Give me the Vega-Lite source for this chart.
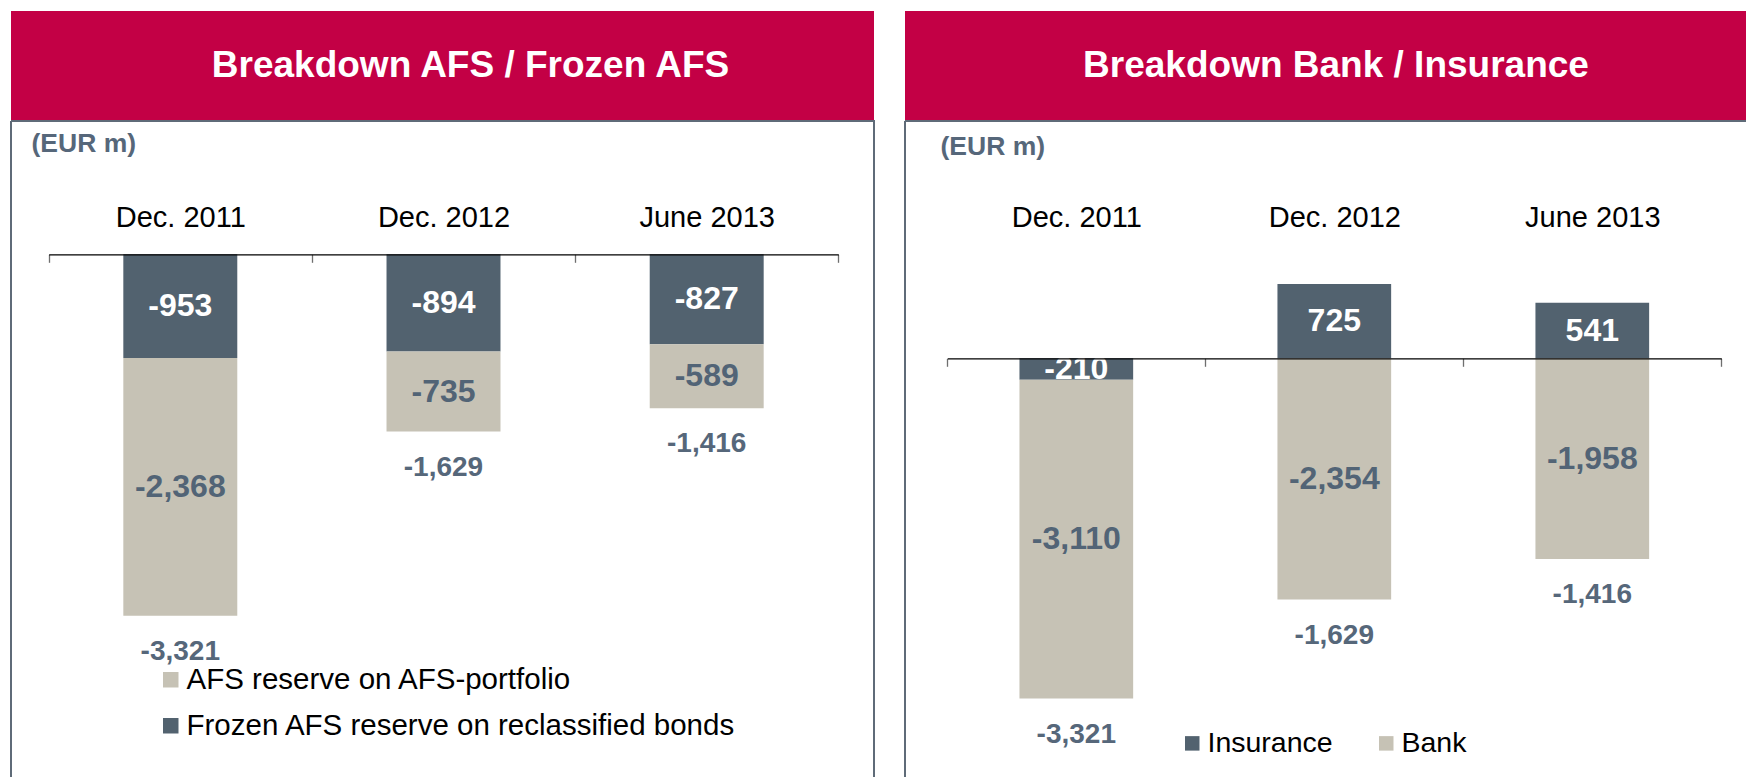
{
  "$schema": "https://vega.github.io/schema/vega-lite/v6.json",
  "padding": {"left": 10, "top": 11, "right": 0, "bottom": 0},
  "background": "white",
  "spacing": 29,
  "config": {
    "locale": {"number": {"decimal": ".", "thousands": ",", "grouping": [3], "currency": ["", ""], "minus": "-"}},
    "font": "Liberation Sans",
    "view": {"stroke": null}
  },
  "resolve": {"scale": {"color": "independent"}, "legend": {"color": "independent"}},
  "hconcat": [
    {
      "spacing": 0,
      "vconcat": [
        {
          "width": 863,
          "height": 109,
          "view": {"fill": "#c30045", "stroke": null},
          "data": {"values": [{"title": "Breakdown AFS / Frozen AFS"}]},
          "mark": {"type": "text", "font": "Liberation Sans", "fontWeight": "bold", "fontSize": 37, "color": "#ffffff", "baseline": "middle", "align": "center", "dx": 28},
          "encoding": {"text": {"field": "title", "type": "nominal"}}
        },
        {
          "width": 863,
          "height": 656,
          "view": {"stroke": "#5f6b78", "strokeWidth": 2, "strokeDash": [1519, 863, 656, 0], "fill": "#ffffff"},
          "data": {"values": [
            {"date": "Dec. 2011", "series": "Frozen AFS reserve on reclassified bonds", "value": -953, "total": -3321},
            {"date": "Dec. 2011", "series": "AFS reserve on AFS-portfolio", "value": -2368, "total": -3321},
            {"date": "Dec. 2012", "series": "Frozen AFS reserve on reclassified bonds", "value": -894, "total": -1629},
            {"date": "Dec. 2012", "series": "AFS reserve on AFS-portfolio", "value": -735, "total": -1629},
            {"date": "June 2013", "series": "Frozen AFS reserve on reclassified bonds", "value": -827, "total": -1416},
            {"date": "June 2013", "series": "AFS reserve on AFS-portfolio", "value": -589, "total": -1416}
          ]},
          "transform": [
            {"stack": "value", "groupby": ["date"], "sort": [{"field": "series", "order": "descending"}], "as": ["v0", "v1"]}
          ],
          "layer": [
            {
              "mark": {"type": "bar"},
              "encoding": {
                "x": {"field": "date", "type": "nominal", "sort": ["Dec. 2011", "Dec. 2012", "June 2013"],
                  "scale": {"range": [37.7, 827.3], "paddingInner": 0.567, "paddingOuter": 0.2835},
                  "axis": null},
                "y": {"field": "v0", "type": "quantitative", "scale": {"domain": [-4804, 1225], "nice": false, "zero": false},
                  "axis": {"orient": "left", "domain": false, "ticks": false, "labels": false, "grid": false, "minExtent": 0, "title": "(EUR m)", "titleAngle": 0, "titleAlign": "left", "titleBaseline": "alphabetic", "titleX": 20, "titleY": 30, "titleFontSize": 26.5, "titleFontWeight": "bold", "titleColor": "#56677a", "titleFont": "Liberation Sans"}},
                "y2": {"field": "v1"},
                "color": {"field": "series", "type": "nominal",
                  "scale": {"domain": ["AFS reserve on AFS-portfolio", "Frozen AFS reserve on reclassified bonds"], "range": ["#c6c2b5", "#52626f"]},
                  "legend": {"title": null, "orient": "none", "legendX": 145, "legendY": 654, "direction": "vertical", "symbolType": "square", "symbolSize": 240, "symbolStrokeWidth": 0, "labelFontSize": 29.5, "labelFont": "Liberation Sans", "labelColor": "#000000", "labelOffset": 1, "rowPadding": 15, "padding": 0, "labelLimit": 1000}}
              }
            },
            {
              "transform": [
                {"fold": ["v0", "v1"], "as": ["k", "pos"]},
                {"aggregate": [{"op": "mean", "field": "pos", "as": "mid"}], "groupby": ["date", "series", "value"]}
              ],
              "mark": {"type": "text", "fontWeight": "bold", "fontSize": 32, "baseline": "middle", "align": "center", "font": "Liberation Sans"},
              "encoding": {
                "x": {"field": "date", "type": "nominal", "sort": ["Dec. 2011", "Dec. 2012", "June 2013"],
                  "scale": {"range": [37.7, 827.3], "paddingInner": 0, "paddingOuter": 0},
                  "axis": {"orient": "top", "offset": -111, "domain": false, "ticks": false, "tickSize": 0, "labelPadding": 0, "labelFontSize": 29, "labelColor": "#000000", "labelFont": "Liberation Sans", "labelAngle": 0, "title": null, "grid": false}},
                "y": {"field": "mid", "type": "quantitative"},
                "text": {"field": "value", "type": "quantitative", "format": ",d"},
                "color": {"condition": {"test": "datum.series === 'Frozen AFS reserve on reclassified bonds'", "value": "#ffffff"}, "value": "#526476"}
              }
            },
            {
              "transform": [
                {"fold": ["v0", "v1"], "as": ["k", "pos"]},
                {"aggregate": [{"op": "min", "field": "pos", "as": "bottom"}], "groupby": ["date", "total"]}
              ],
              "mark": {"type": "text", "fontWeight": "bold", "fontSize": 28, "baseline": "middle", "align": "center", "dy": 36, "color": "#56677a", "font": "Liberation Sans"},
              "encoding": {
                "x": {"field": "date", "type": "nominal", "sort": ["Dec. 2011", "Dec. 2012", "June 2013"],
                  "scale": {"range": [37.7, 827.3], "paddingInner": 0, "paddingOuter": 0},
                  "axis": {"orient": "bottom", "offset": -522.7, "labels": false, "domain": true, "domainColor": "#000000", "domainWidth": 1.2, "ticks": true, "tickBand": "extent", "tickSize": 8, "tickColor": "#6f6f6f", "tickWidth": 1.3, "title": null, "grid": false, "zindex": 1}},
                "y": {"field": "bottom", "type": "quantitative"},
                "text": {"field": "total", "type": "quantitative", "format": ",d"}
              }
            }
          ],
          "resolve": {"scale": {"x": "independent"}, "axis": {"x": "independent"}}
        }
      ]
    },
    {
      "spacing": 0,
      "vconcat": [
        {
          "width": 842,
          "height": 109,
          "view": {"fill": "#c30045", "stroke": null},
          "data": {"values": [{"title": "Breakdown Bank / Insurance"}]},
          "mark": {"type": "text", "font": "Liberation Sans", "fontWeight": "bold", "fontSize": 37, "color": "#ffffff", "baseline": "middle", "align": "center", "dx": 10},
          "encoding": {"text": {"field": "title", "type": "nominal"}}
        },
        {
          "width": 842,
          "height": 656,
          "view": {"stroke": "#5f6b78", "strokeWidth": 2, "strokeDash": [842, 1498, 656, 0], "fill": "#ffffff"},
          "data": {"values": [
            {"date": "Dec. 2011", "series": "Insurance", "value": -210, "total": -3321},
            {"date": "Dec. 2011", "series": "Bank", "value": -3110, "total": -3321},
            {"date": "Dec. 2012", "series": "Insurance", "value": 725, "total": -1629},
            {"date": "Dec. 2012", "series": "Bank", "value": -2354, "total": -1629},
            {"date": "June 2013", "series": "Insurance", "value": 541, "total": -1416},
            {"date": "June 2013", "series": "Bank", "value": -1958, "total": -1416}
          ]},
          "transform": [
            {"stack": "value", "groupby": ["date"], "sort": [{"field": "series", "order": "descending"}], "as": ["v0", "v1"]}
          ],
          "layer": [
            {
              "mark": {"type": "bar"},
              "encoding": {
                "x": {"field": "date", "type": "nominal", "sort": ["Dec. 2011", "Dec. 2012", "June 2013"],
                  "scale": {"range": [42.3, 816.3], "paddingInner": 0.5593, "paddingOuter": 0.2797},
                  "axis": null},
                "y": {"field": "v0", "type": "quantitative", "scale": {"domain": [-4085, 2315], "nice": false, "zero": false},
                  "axis": {"orient": "left", "domain": false, "ticks": false, "labels": false, "grid": false, "minExtent": 0, "title": "(EUR m)", "titleAngle": 0, "titleAlign": "left", "titleBaseline": "alphabetic", "titleX": 35, "titleY": 33, "titleFontSize": 26.5, "titleFontWeight": "bold", "titleColor": "#56677a", "titleFont": "Liberation Sans"}},
                "y2": {"field": "v1"},
                "color": {"field": "series", "type": "nominal",
                  "scale": {"domain": ["Insurance", "Bank"], "range": ["#52626f", "#c6c2b5"]},
                  "legend": {"title": null, "orient": "none", "legendX": 273, "legendY": 718, "direction": "horizontal", "symbolType": "square", "symbolSize": 210, "symbolStrokeWidth": 0, "labelFontSize": 28.5, "labelFont": "Liberation Sans", "labelColor": "#000000", "labelOffset": 1, "columnPadding": 39, "padding": 0, "labelLimit": 1000}}
              }
            },
            {
              "transform": [
                {"fold": ["v0", "v1"], "as": ["k", "pos"]},
                {"aggregate": [{"op": "mean", "field": "pos", "as": "mid"}], "groupby": ["date", "series", "value"]}
              ],
              "mark": {"type": "text", "fontWeight": "bold", "fontSize": 32, "baseline": "middle", "align": "center", "font": "Liberation Sans"},
              "encoding": {
                "x": {"field": "date", "type": "nominal", "sort": ["Dec. 2011", "Dec. 2012", "June 2013"],
                  "scale": {"range": [42.3, 816.3], "paddingInner": 0, "paddingOuter": 0},
                  "axis": {"orient": "top", "offset": -111, "domain": false, "ticks": false, "tickSize": 0, "labelPadding": 0, "labelFontSize": 29, "labelColor": "#000000", "labelFont": "Liberation Sans", "labelAngle": 0, "title": null, "grid": false}},
                "y": {"field": "mid", "type": "quantitative"},
                "text": {"field": "value", "type": "quantitative", "format": ",d"},
                "color": {"condition": {"test": "datum.series === 'Insurance'", "value": "#ffffff"}, "value": "#526476"}
              }
            },
            {
              "transform": [
                {"fold": ["v0", "v1"], "as": ["k", "pos"]},
                {"aggregate": [{"op": "min", "field": "pos", "as": "bottom"}], "groupby": ["date", "total"]}
              ],
              "mark": {"type": "text", "fontWeight": "bold", "fontSize": 28, "baseline": "middle", "align": "center", "dy": 36, "color": "#56677a", "font": "Liberation Sans"},
              "encoding": {
                "x": {"field": "date", "type": "nominal", "sort": ["Dec. 2011", "Dec. 2012", "June 2013"],
                  "scale": {"range": [42.3, 816.3], "paddingInner": 0, "paddingOuter": 0},
                  "axis": {"orient": "bottom", "offset": -418.7, "labels": false, "domain": true, "domainColor": "#000000", "domainWidth": 1.2, "ticks": true, "tickBand": "extent", "tickSize": 8, "tickColor": "#6f6f6f", "tickWidth": 1.3, "title": null, "grid": false, "zindex": 1}},
                "y": {"field": "bottom", "type": "quantitative"},
                "text": {"field": "total", "type": "quantitative", "format": ",d"}
              }
            }
          ],
          "resolve": {"scale": {"x": "independent"}, "axis": {"x": "independent"}}
        }
      ]
    }
  ]
}
